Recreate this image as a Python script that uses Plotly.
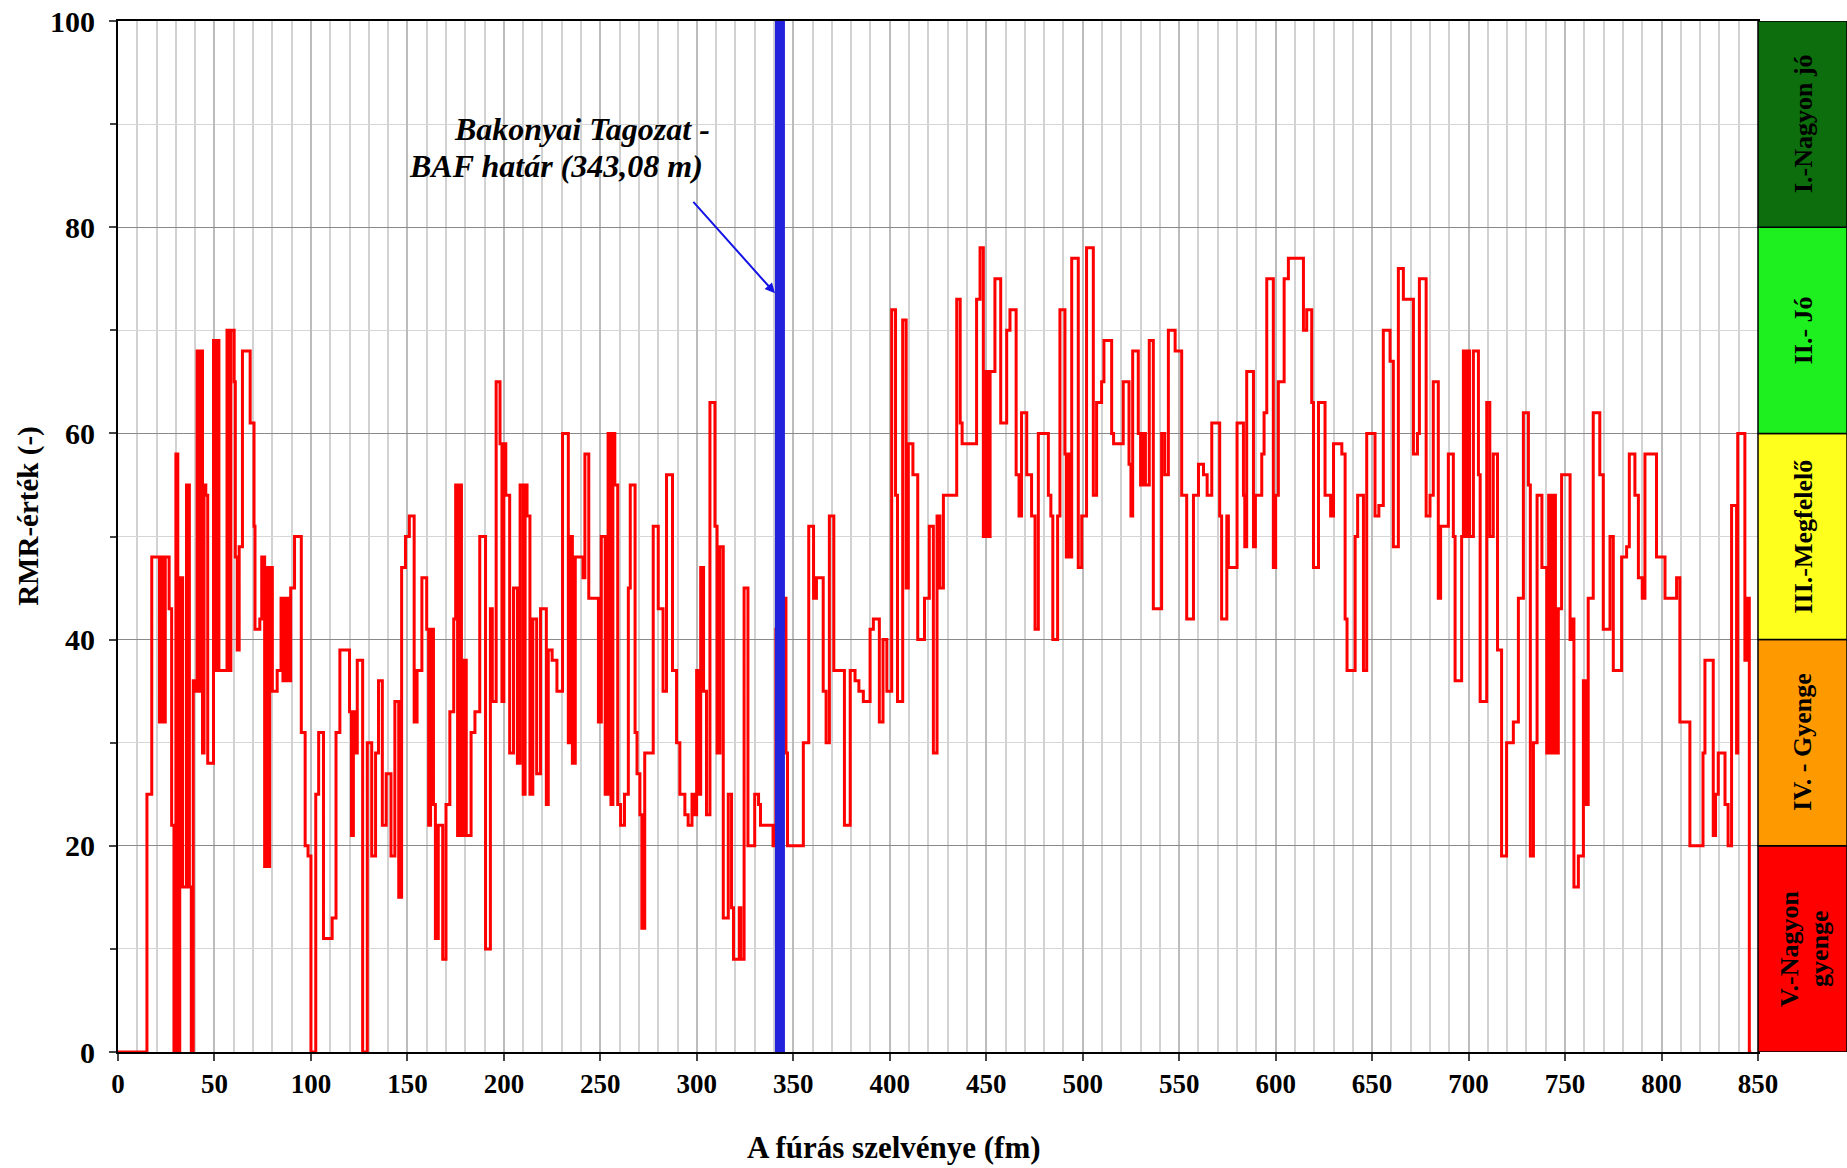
import plotly.graph_objects as go

# RMR values along the borehole: (start of interval in fm, RMR value) step pairs
rmr_000_107 = [
    (0, 0), (15, 25), (17.5, 48), (21.5, 32), (22.5, 48), (23.5, 32), (24.5, 48), (26.5, 43),
    (27.8, 22), (29, 0), (30, 58), (31, 0), (32, 46), (33.5, 16), (35.5, 55), (37, 16), (38, 0),
    (39, 36), (40.3, 35), (41, 68), (42, 35), (42.8, 68), (43.8, 29), (44.6, 55), (45.5, 54),
    (46.5, 28), (49.5, 69), (50.5, 37), (51.5, 69), (52.3, 37), (56.5, 70), (57.5, 37), (58.5, 70),
    (60.2, 65), (60.8, 48), (61.8, 39), (62.8, 49), (64.5, 68), (68.5, 61), (70.5, 51), (71, 41),
    (73.5, 42), (74.5, 48), (76, 18), (77, 47), (77.8, 18), (78.6, 47), (80, 35), (82.5, 37),
    (84.5, 44), (85.5, 36), (86.5, 44), (88, 36), (89.5, 45), (91.5, 50), (95, 31), (97, 20),
    (98.5, 19), (100, 0), (102.5, 25), (104, 31), (106.5, 11),
]
rmr_107_219 = [
    (111, 13), (113, 31), (115, 39), (120, 33), (121, 21), (122, 33), (123, 29), (124, 38),
    (126.8, 0), (129.2, 30), (131.5, 19), (133.5, 29), (135, 36), (137, 22), (139, 27), (141.5, 19),
    (143.5, 34), (145.5, 15), (147, 47), (149, 50), (151, 52), (153.5, 32), (155, 37), (157.5, 46),
    (160, 41), (161, 22), (162, 41), (163.5, 24), (164.5, 11), (166, 22), (168.3, 9), (170, 24),
    (172, 33), (174, 42), (175, 55), (176, 21), (177, 55), (178, 21), (179, 38), (180.5, 21),
    (183, 31), (185, 33), (187.5, 50), (190.5, 10), (193, 43), (194, 34), (196, 65), (198, 59),
    (199, 34), (200, 59), (201, 54), (203, 29), (205, 45), (207, 28), (208.4, 55), (210, 25),
    (211, 55), (212, 52), (213.5, 25), (215, 42), (217, 27), (219, 43),
]
rmr_219_330 = [
    (222, 24), (223, 39), (225, 38), (227.5, 35), (230.4, 60), (233.4, 30), (234.5, 50), (235.5, 28),
    (237, 48), (241, 46), (242, 58), (244, 44), (249, 32), (250.5, 50), (252.5, 25), (254, 60),
    (255.5, 24), (256.5, 60), (257.5, 55), (259, 24), (260.5, 22), (262.5, 25), (264.5, 45),
    (265.5, 55), (268, 31), (269, 27), (270.5, 23), (271.5, 12), (273, 29), (277.4, 51), (280, 43),
    (282.5, 35), (284.3, 56), (287.4, 37), (289.5, 30), (291.2, 25), (293.8, 23), (295.5, 22),
    (297.5, 25), (298.5, 23), (299.9, 37), (301, 25), (302, 47), (303.5, 35), (305, 23), (306.8, 63),
    (309.4, 51), (310.5, 29), (312, 49), (313.7, 13), (316.3, 25), (318, 14), (319, 9), (322, 14),
    (322.8, 9), (324.5, 45), (326.5, 20), (330, 25),
]
rmr_330_437 = [
    (332, 24), (333, 22), (339.5, 20), (341, 41), (345.5, 44), (346.2, 29), (347, 20), (355.2, 30),
    (358, 51), (360.5, 44), (362, 46), (365.5, 35), (367, 30), (368.7, 52), (371, 37), (376.5, 22),
    (379.5, 37), (382, 36), (384, 35), (386.3, 34), (389.8, 41), (391.5, 42), (394.6, 32),
    (396.5, 40), (398.5, 35), (401, 72), (403, 54), (404, 34), (406.7, 71), (408.5, 45), (409.6, 59),
    (412, 56), (414.5, 40), (418, 44), (420.5, 51), (422.6, 29), (424.5, 52), (426, 45), (427.8, 54),
    (434.7, 73),
]
rmr_437_545 = [
    (436.5, 61), (437.5, 59), (445, 73), (446.8, 78), (448.5, 50), (449.5, 66), (451, 50), (452, 66),
    (454.5, 75), (457.5, 61), (460.6, 70), (462.3, 72), (465.5, 56), (467, 52), (468.3, 62),
    (471, 56), (473.5, 52), (475.3, 41), (477, 60), (482.2, 54), (483.5, 52), (484.5, 40), (487, 52),
    (488.2, 72), (490.8, 58), (491.5, 48), (492.5, 58), (493.5, 48), (494.3, 77), (497.7, 47),
    (499.5, 52), (502, 78), (505.5, 54), (507.2, 63), (509.8, 65), (511, 69), (515, 60), (516, 59),
    (521, 65), (524, 57), (525, 52), (525.9, 68), (528.8, 60), (530, 55), (531.5, 60), (532.5, 55),
    (534.5, 69), (536.6, 43), (540.9, 60), (542.5, 56), (544.4, 70),
]
rmr_545_649 = [
    (547.9, 68), (551.3, 54), (553.9, 42), (557.4, 54), (560, 57), (562.6, 56), (564.5, 54),
    (566.9, 61), (571, 52), (572, 42), (574.7, 52), (575.5, 47), (580, 61), (583.3, 54), (584, 49),
    (585, 66), (588.5, 49), (589.5, 54), (592.8, 58), (594, 62), (595.4, 75), (598.8, 47), (600, 54),
    (601.4, 65), (604.4, 75), (606.6, 77), (614.4, 70), (616.1, 72), (618.7, 63), (619.6, 47),
    (622.2, 63), (625.6, 54), (628.5, 52), (630, 59), (634.3, 58), (636, 42), (637, 37), (641.2, 50),
    (642.5, 54), (645.5, 37), (647.2, 60),
]
rmr_649_762 = [
    (651.5, 52), (653.5, 53), (655.8, 70), (659.3, 67), (661, 49), (663.6, 76), (666.2, 73),
    (671.4, 58), (673.5, 60), (674.5, 75), (678, 52), (680, 54), (681.7, 65), (684.3, 44),
    (685.5, 51), (689.5, 58), (692.1, 50), (693, 36), (696.4, 50), (697.3, 68), (698.5, 50),
    (699.5, 68), (700.5, 50), (702.5, 68), (705.1, 56), (706, 34), (709.4, 63), (711, 50),
    (712.8, 58), (715, 39), (717.1, 19), (719.7, 30), (723.2, 32), (725.8, 44), (728.4, 62),
    (731, 55), (732, 19), (733.6, 30), (735.5, 54), (738, 47), (740.5, 29), (741.5, 54), (742.5, 29),
    (743.5, 54), (745, 29), (746.5, 43), (748.2, 56), (752.6, 40), (753.5, 42), (754.6, 16),
    (756.9, 19), (759.5, 36), (760.5, 24), (762, 44),
]
rmr_762_850 = [
    (764.6, 62), (768, 56), (769.8, 41), (773.3, 50), (775, 37), (779.3, 48), (781.9, 49),
    (783.3, 58), (786.2, 54), (788, 46), (790, 44), (791.4, 58), (797.4, 48), (801.8, 44),
    (807.8, 46), (809.5, 32), (814.7, 20), (821.5, 29), (822.5, 38), (826.8, 21), (828, 25),
    (829.4, 29), (832.9, 24), (834.5, 20), (836.3, 53), (838.9, 29), (839.5, 60), (843.2, 38),
    (844.2, 44), (845.5, 0),
]
log_end_fm = 846.5

boundary_fm = 343.08
boundary_lines = ["Bakonyai Tagozat -", "BAF határ (343,08 m)"]

# RMR classes: label lines per class, class limits and colours
class_labels = [["V.-Nagyon", "gyenge"], ["IV. - Gyenge"], ["III.-Megfelelő"], ["II.- Jó"], ["I.-Nagyon jó"]]
class_limits = [0, 20, 40, 60, 80, 100]
class_colors = ["#ff0000", "#ff9900", "#ffff1e", "#1eef1e", "#0c6e0c"]

x_title = "A fúrás szelvénye (fm)"
y_title = "RMR-érték (-)"

# ---------------------------------------------------------------------------
steps = (rmr_000_107 + rmr_107_219 + rmr_219_330 + rmr_330_437 +
         rmr_437_545 + rmr_545_649 + rmr_649_762 + rmr_762_850)
depth = [d for d, _ in steps] + [log_end_fm]
rmr = [v for _, v in steps] + [steps[-1][1]]

FONT = "Liberation Serif"
W, H = 1847, 1168
dom_end = 1640 / 1729  # plot area ends where the class column begins
band_mid = (dom_end + 1.0) / 2

fig = go.Figure()
fig.add_trace(go.Scatter(
    x=depth, y=rmr, mode="lines", line=dict(color="#ff0000", width=3, shape="hv"),
    cliponaxis=False, hoverinfo="x+y",
))
fig.add_trace(go.Scatter(
    x=[boundary_fm, boundary_fm], y=[0, 100], mode="lines",
    line=dict(color="#2222dd", width=10), hoverinfo="skip",
))

# RMR class column on the right
for i, lines in enumerate(class_labels):
    y0, y1 = class_limits[i], class_limits[i + 1]
    fig.add_shape(type="rect", xref="paper", yref="y", x0=dom_end, x1=1.0, y0=y0, y1=y1,
                  fillcolor=class_colors[i], line=dict(color="black", width=1.5), layer="above")
    shifts = [17] if len(lines) == 1 else [4, 34]
    for txt, dx in zip(lines, shifts):
        fig.add_annotation(xref="paper", yref="y", x=band_mid, y=(y0 + y1) / 2, xshift=dx,
                           text=f"<b>{txt}</b>", textangle=-90, showarrow=False,
                           font=dict(family=FONT, size=26, color="black"))

# boundary label with arrow
for txt, xc, yc in zip(boundary_lines, [240.6, 227.2], [89.5, 85.9]):
    fig.add_annotation(x=xc, y=yc, xref="x", yref="y", xanchor="center", yanchor="middle",
                       text=f"<b><i>{txt}</i></b>", showarrow=False,
                       font=dict(family=FONT, size=32, color="black"))
fig.add_annotation(x=340.5, y=73.6, ax=297.5, ay=82.6, xref="x", yref="y", axref="x", ayref="y",
                   text="", showarrow=True, arrowhead=2, arrowsize=1, arrowwidth=2,
                   arrowcolor="#1414e6")

# axis titles
fig.add_annotation(xref="paper", yref="paper", x=0.449, y=-0.093, xanchor="center",
                   yanchor="middle", text=f"<b>{x_title}</b>", showarrow=False,
                   font=dict(family=FONT, size=31, color="black"))
fig.add_annotation(xref="paper", yref="paper", x=-0.0515, y=0.52, xanchor="center",
                   yanchor="middle", text=f"<b>{y_title}</b>", textangle=-90, showarrow=False,
                   font=dict(family=FONT, size=29, color="black"))

fig.update_layout(
    width=W, height=H, autosize=False,
    margin=dict(l=118, r=0, t=21, b=116),
    plot_bgcolor="white", paper_bgcolor="white", showlegend=False,
    font=dict(family=FONT, color="black"),
    xaxis=dict(
        range=[0, 850], domain=[0, dom_end], tick0=0, dtick=50, automargin=False,
        showgrid=True, gridcolor="#bcbcbc", gridwidth=1.5,
        minor=dict(dtick=10, showgrid=True, gridcolor="#d2d2d2", gridwidth=1.5),
        ticks="outside", ticklen=7, tickwidth=1.5, tickcolor="#444",
        showline=True, linecolor="black", linewidth=2, mirror=True, zeroline=False,
        tickfont=dict(family=FONT, size=27, color="black", weight="bold"),
    ),
    yaxis=dict(
        range=[0, 100], tick0=0, dtick=20, automargin=False,
        showgrid=True, gridcolor="#8a8a8a", gridwidth=1.2,
        minor=dict(dtick=10, showgrid=True, gridcolor="#d6d6d6", gridwidth=1.2,
                   ticks="outside", ticklen=6, tickcolor="#444"),
        ticks="outside", ticklen=7, tickwidth=1.5, tickcolor="#444", ticklabelstandoff=8,
        showline=True, linecolor="black", linewidth=2, mirror=True, zeroline=False,
        tickfont=dict(family=FONT, size=30, color="black", weight="bold"),
    ),
)

fig.write_html("out.html", config={"responsive": False})
